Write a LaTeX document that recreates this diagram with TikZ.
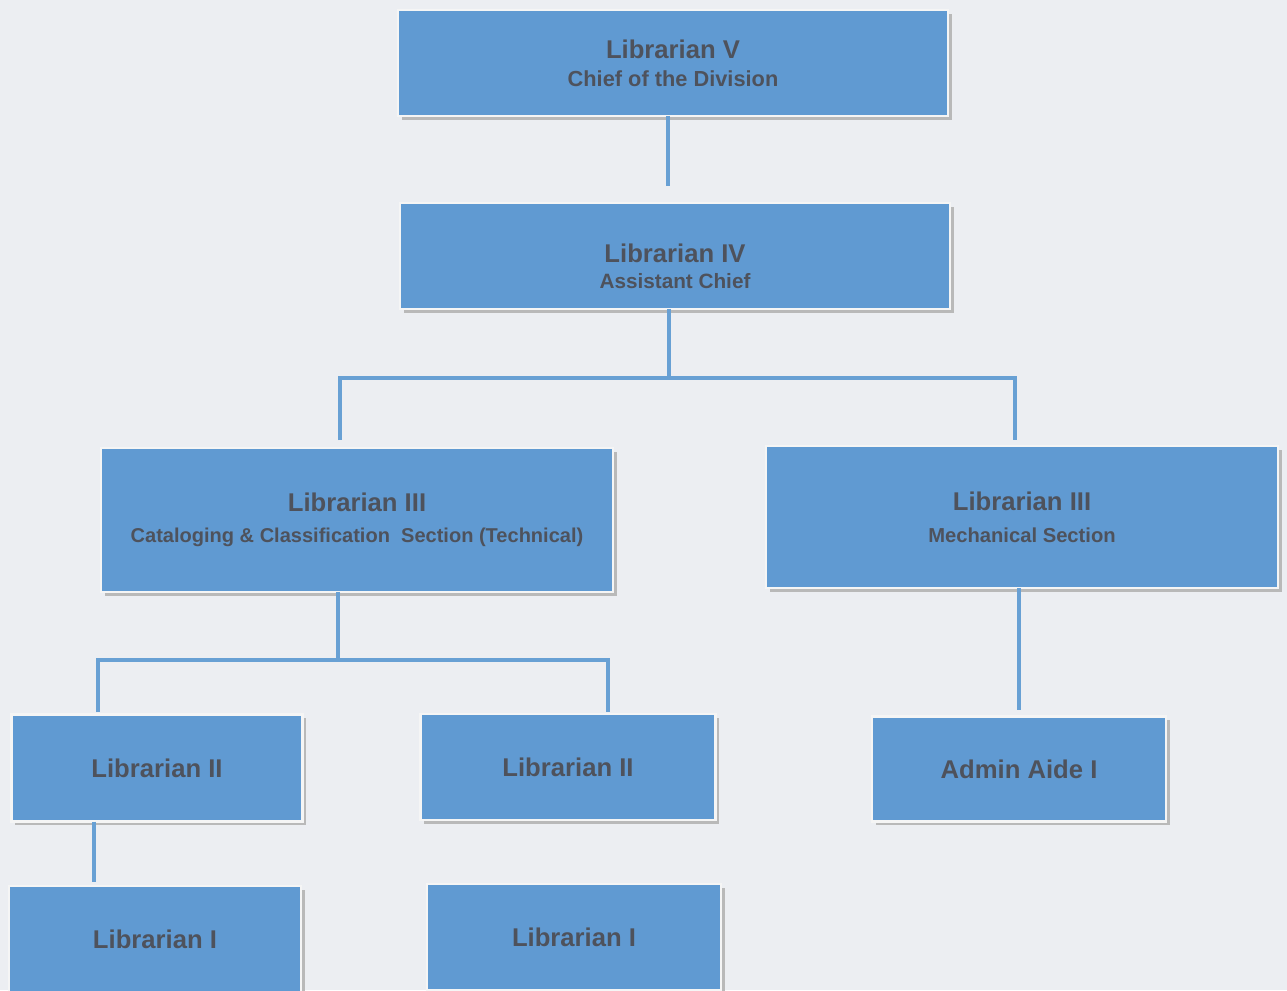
\documentclass[tikz,border=0pt]{standalone}
\usepackage{fontspec}
\setmainfont{Liberation Sans}
\usetikzlibrary{shadows}
\definecolor{boxblue}{RGB}{96,154,210}
\definecolor{linkblue}{RGB}{104,160,212}
\definecolor{inkgray}{RGB}{78,82,92}
\definecolor{paper}{RGB}{236,238,242}
\newcommand{\ranksize}{\fontsize{14.6}{17}\selectfont}
\begin{document}
\begin{tikzpicture}[x=0.02cm,y=-0.02cm,
    post/.style={rectangle,fill=boxblue,draw=white!92!gray,line width=1.2pt,
      drop shadow={shadow xshift=2.2pt,shadow yshift=-2.2pt,fill=gray!55,opacity=1},
      text=inkgray,font=\bfseries,align=center,inner sep=0pt,outer sep=0pt},
    rank/.style={font=\ranksize\bfseries},
    link/.style={draw=linkblue,line width=2.3pt}]
  \fill[paper] (0,0) rectangle (1287,990);
  \useasboundingbox (0,0) rectangle (1287,990);

  \begin{scope}[every node/.style={post}]
    \node[minimum width=11cm,minimum height=2.12cm] (lib5) at (673,63)
      {{\ranksize Librarian V}\\[4pt]{\fontsize{12.4}{14}\selectfont Chief of the Division}};
    \node[minimum width=11cm,minimum height=2.12cm] (lib4) at (675,256)
      {\\[10pt]{\ranksize Librarian IV}\\[3pt]{\fontsize{11.8}{14}\selectfont Assistant Chief}};
    \node[minimum width=10.24cm,minimum height=2.88cm] (tech) at (357,520)
      {{\ranksize Librarian III}\\[6pt]{\fontsize{11.4}{13}\selectfont Cataloging \& Classification\ \ Section (Technical)}};
    \node[minimum width=10.24cm,minimum height=2.84cm] (mech) at (1022,517)
      {{\ranksize Librarian III}\\[6pt]{\fontsize{11.5}{13}\selectfont Mechanical Section}};
    \node[rank,minimum width=5.82cm,minimum height=2.14cm] (two1) at (157,768) {Librarian II};
    \node[rank,minimum width=5.9cm,minimum height=2.12cm] (two2) at (568,767) {Librarian II};
    \node[rank,minimum width=5.88cm,minimum height=2.1cm] (aide) at (1019,769) {Admin Aide I};
    \node[rank,minimum width=5.84cm,minimum height=2.12cm] (one1) at (155,939) {Librarian I};
    \node[rank,minimum width=5.88cm,minimum height=2.12cm] (one2) at (574,937) {Librarian I};
  \end{scope}

  \coordinate (e5) at (668,186);
  \coordinate (j4) at (669,378);
  \coordinate (jt) at (338,660);

  \begin{scope}
    \draw[link] (lib5.south -| e5) -- (e5);
    \draw[link] (lib4.south -| j4) -- (j4);
    \draw[link] (340,440) |- (j4) -| (1015,440);
    \draw[link] (tech.south -| jt) -- (jt);
    \draw[link] (98,712) |- (jt) -| (608,712);
    \draw[link] (mech.south -| 1019,0) -- (1019,710);
    \draw[link] (two1.south -| 94,0) -- (94,882);
  \end{scope}
\end{tikzpicture}
\end{document}
